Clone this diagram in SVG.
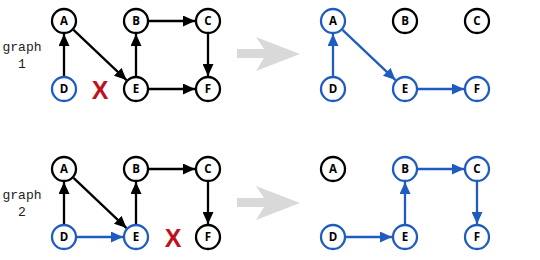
<svg xmlns="http://www.w3.org/2000/svg" width="540" height="260" viewBox="0 0 540 260">
<style>
.n circle{fill:#fff;stroke:#000;stroke-width:2.3}
.n.b circle{stroke:#1f5cbf}
.n text{font-family:"Open Sans","Liberation Sans",sans-serif;font-weight:bold;font-size:11.5px;text-anchor:middle;fill:#000}
.e line{stroke:#000;stroke-width:2.3;marker-end:url(#ak)}
.e line.b{stroke:#1f5cbf;marker-end:url(#ab)}
.lbl{font-family:"Liberation Mono","DejaVu Sans Mono",monospace;font-size:13px;text-anchor:middle;fill:#222}
.x{font-family:"Liberation Sans",Arial,sans-serif;font-weight:bold;font-size:25px;text-anchor:middle;fill:#c0121e}
.big{fill:#d9d9d9}
</style>
<defs>
<marker id="ak" markerUnits="userSpaceOnUse" markerWidth="13" markerHeight="11" refX="12" refY="5.5" orient="auto"><path d="M0,0 L12,5.5 L0,11 Z" fill="#000"/></marker>
<marker id="ab" markerUnits="userSpaceOnUse" markerWidth="13" markerHeight="11" refX="12" refY="5.5" orient="auto"><path d="M0,0 L12,5.5 L0,11 Z" fill="#1f5cbf"/></marker>
</defs>
<rect width="540" height="260" fill="#fff"/>
<text class="lbl" x="22" y="51">graph</text>
<text class="lbl" x="22" y="68">1</text>
<text class="lbl" x="22" y="199">graph</text>
<text class="lbl" x="22" y="216">2</text>
<text class="x" x="100" y="99">X</text>
<text class="x" x="173" y="247">X</text>
<path class="big" d="M237,49 L264,49 L256,37 L300,54 L256,71 L264,58 L237,58 Z"/>
<path class="big" d="M237,198 L264,198 L256,186 L300,203 L256,220 L264,207 L237,207 Z"/>
<g id="connectors" class="e">
<line x1="64" y1="76" x2="64" y2="34"/>
<line x1="73.5" y1="29.9" x2="126.5" y2="80.1"/>
<line x1="136" y1="76" x2="136" y2="34"/>
<line x1="149" y1="21" x2="195" y2="21"/>
<line x1="208" y1="34" x2="208" y2="76"/>
<line x1="149" y1="89" x2="195" y2="89"/>
<line x1="64" y1="224" x2="64" y2="182"/>
<line x1="73.5" y1="177.9" x2="126.5" y2="228.1"/>
<line class="b" x1="77" y1="237" x2="123" y2="237"/>
<line x1="136" y1="224" x2="136" y2="182"/>
<line x1="149" y1="169" x2="195" y2="169"/>
<line x1="208" y1="182" x2="208" y2="224"/>
<line class="b" x1="333" y1="76" x2="333" y2="34"/>
<line class="b" x1="342.5" y1="29.9" x2="395.5" y2="80.1"/>
<line class="b" x1="418" y1="89" x2="464" y2="89"/>
<line class="b" x1="346" y1="237" x2="392" y2="237"/>
<line class="b" x1="405" y1="224" x2="405" y2="182"/>
<line class="b" x1="418" y1="169" x2="464" y2="169"/>
<line class="b" x1="477" y1="182" x2="477" y2="224"/>
</g>
<g id="g1A" class="n"><circle cx="64" cy="21" r="12"/><text x="64" y="25">A</text></g>
<g id="g1B" class="n"><circle cx="136" cy="21" r="12"/><text x="136" y="25">B</text></g>
<g id="g1C" class="n"><circle cx="208" cy="21" r="12"/><text x="208" y="25">C</text></g>
<g id="g1D" class="n b"><circle cx="64" cy="89" r="12"/><text x="64" y="93">D</text></g>
<g id="g1E" class="n"><circle cx="136" cy="89" r="12"/><text x="136" y="93">E</text></g>
<g id="g1F" class="n"><circle cx="208" cy="89" r="12"/><text x="208" y="93">F</text></g>
<g id="g2A" class="n"><circle cx="64" cy="169" r="12"/><text x="64" y="173">A</text></g>
<g id="g2B" class="n"><circle cx="136" cy="169" r="12"/><text x="136" y="173">B</text></g>
<g id="g2C" class="n"><circle cx="208" cy="169" r="12"/><text x="208" y="173">C</text></g>
<g id="g2D" class="n b"><circle cx="64" cy="237" r="12"/><text x="64" y="241">D</text></g>
<g id="g2E" class="n b"><circle cx="136" cy="237" r="12"/><text x="136" y="241">E</text></g>
<g id="g2F" class="n"><circle cx="208" cy="237" r="12"/><text x="208" y="241">F</text></g>
<g id="r1A" class="n b"><circle cx="333" cy="21" r="12"/><text x="333" y="25">A</text></g>
<g id="r1B" class="n"><circle cx="405" cy="21" r="12"/><text x="405" y="25">B</text></g>
<g id="r1C" class="n"><circle cx="477" cy="21" r="12"/><text x="477" y="25">C</text></g>
<g id="r1D" class="n b"><circle cx="333" cy="89" r="12"/><text x="333" y="93">D</text></g>
<g id="r1E" class="n b"><circle cx="405" cy="89" r="12"/><text x="405" y="93">E</text></g>
<g id="r1F" class="n b"><circle cx="477" cy="89" r="12"/><text x="477" y="93">F</text></g>
<g id="r2A" class="n"><circle cx="333" cy="169" r="12"/><text x="333" y="173">A</text></g>
<g id="r2B" class="n b"><circle cx="405" cy="169" r="12"/><text x="405" y="173">B</text></g>
<g id="r2C" class="n b"><circle cx="477" cy="169" r="12"/><text x="477" y="173">C</text></g>
<g id="r2D" class="n b"><circle cx="333" cy="237" r="12"/><text x="333" y="241">D</text></g>
<g id="r2E" class="n b"><circle cx="405" cy="237" r="12"/><text x="405" y="241">E</text></g>
<g id="r2F" class="n b"><circle cx="477" cy="237" r="12"/><text x="477" y="241">F</text></g>
</svg>
